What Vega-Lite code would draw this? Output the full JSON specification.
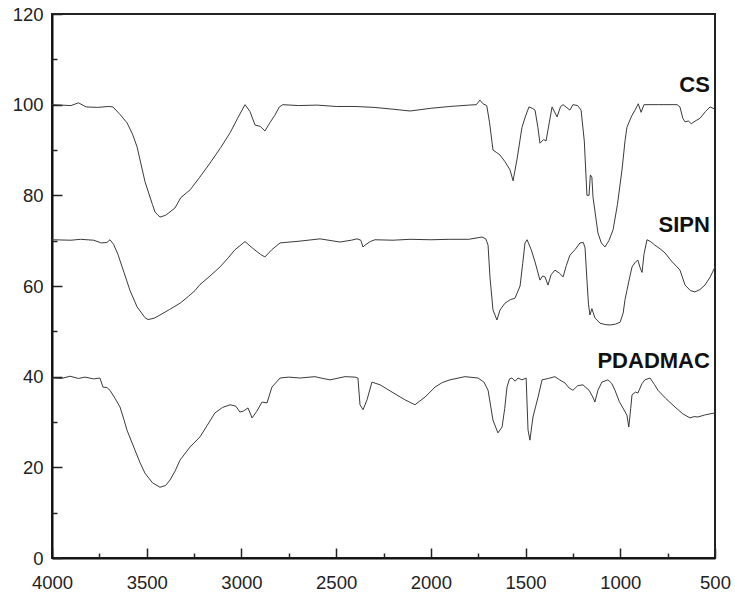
{
  "$schema": "https://vega.github.io/schema/vega-lite/v6.json",
  "width": 663,
  "height": 544,
  "autosize": {"type": "none"},
  "padding": {"left": 52, "top": 14, "right": 20, "bottom": 39},
  "background": "white",
  "config": {
    "view": {"stroke": "#222", "strokeWidth": 2},
    "font": "Liberation Sans",
    "axis": {"grid": false, "domainColor": "#111", "domainWidth": 2, "tickColor": "#222", "tickWidth": 1.5, "labelFont": "Liberation Sans", "labelFontSize": 18.5, "labelColor": "#222", "titleFontSize": 0}
  },
  "datasets": {
    "spectra": [
      {"s":"CS","wn":4000,"t":100},{"s":"CS","wn":3950,"t":99.9},{"s":"CS","wn":3900,"t":99.8},{"s":"CS","wn":3860,"t":100.4},{"s":"CS","wn":3820,"t":99.5},{"s":"CS","wn":3760,"t":99.4},{"s":"CS","wn":3700,"t":99.6},{"s":"CS","wn":3678,"t":99.5},{"s":"CS","wn":3640,"t":97.8},{"s":"CS","wn":3604,"t":96},{"s":"CS","wn":3575,"t":93.5},{"s":"CS","wn":3551,"t":90.7},{"s":"CS","wn":3509,"t":83},{"s":"CS","wn":3470,"t":78},{"s":"CS","wn":3456,"t":76.3},{"s":"CS","wn":3430,"t":75.2},{"s":"CS","wn":3400,"t":75.6},{"s":"CS","wn":3351,"t":77.2},{"s":"CS","wn":3320,"t":79.5},{"s":"CS","wn":3271,"t":81.2},{"s":"CS","wn":3220,"t":84},{"s":"CS","wn":3166,"t":87.1},{"s":"CS","wn":3110,"t":90.5},{"s":"CS","wn":3060,"t":93.8},{"s":"CS","wn":3020,"t":97},{"s":"CS","wn":2981,"t":100},{"s":"CS","wn":2955,"t":98.5},{"s":"CS","wn":2928,"t":95.5},{"s":"CS","wn":2900,"t":95.2},{"s":"CS","wn":2876,"t":94.2},{"s":"CS","wn":2850,"t":96},{"s":"CS","wn":2823,"t":97.7},{"s":"CS","wn":2800,"t":99.5},{"s":"CS","wn":2781,"t":100},{"s":"CS","wn":2700,"t":99.8},{"s":"CS","wn":2600,"t":99.9},{"s":"CS","wn":2500,"t":99.6},{"s":"CS","wn":2400,"t":99.6},{"s":"CS","wn":2300,"t":99.4},{"s":"CS","wn":2200,"t":99},{"s":"CS","wn":2110,"t":98.6},{"s":"CS","wn":2000,"t":99.2},{"s":"CS","wn":1900,"t":99.6},{"s":"CS","wn":1800,"t":99.9},{"s":"CS","wn":1760,"t":100},{"s":"CS","wn":1741,"t":101},{"s":"CS","wn":1725,"t":100.2},{"s":"CS","wn":1705,"t":99.8},{"s":"CS","wn":1690,"t":96},{"s":"CS","wn":1672,"t":90},{"s":"CS","wn":1655,"t":89.5},{"s":"CS","wn":1635,"t":88.9},{"s":"CS","wn":1610,"t":87.5},{"s":"CS","wn":1582,"t":85.6},{"s":"CS","wn":1566,"t":83.2},{"s":"CS","wn":1545,"t":88},{"s":"CS","wn":1519,"t":95},{"s":"CS","wn":1500,"t":97.5},{"s":"CS","wn":1482,"t":99.5},{"s":"CS","wn":1465,"t":99.2},{"s":"CS","wn":1450,"t":98.8},{"s":"CS","wn":1435,"t":95},{"s":"CS","wn":1424,"t":91.5},{"s":"CS","wn":1405,"t":92.3},{"s":"CS","wn":1392,"t":92},{"s":"CS","wn":1375,"t":96},{"s":"CS","wn":1360,"t":99.5},{"s":"CS","wn":1334,"t":97.3},{"s":"CS","wn":1315,"t":99.6},{"s":"CS","wn":1302,"t":100},{"s":"CS","wn":1266,"t":98.8},{"s":"CS","wn":1250,"t":100},{"s":"CS","wn":1225,"t":99.8},{"s":"CS","wn":1207,"t":98.8},{"s":"CS","wn":1190,"t":92},{"s":"CS","wn":1176,"t":80},{"s":"CS","wn":1165,"t":80},{"s":"CS","wn":1158,"t":84.5},{"s":"CS","wn":1150,"t":84},{"s":"CS","wn":1144,"t":79.6},{"s":"CS","wn":1118,"t":71.7},{"s":"CS","wn":1100,"t":69.5},{"s":"CS","wn":1081,"t":68.6},{"s":"CS","wn":1060,"t":70},{"s":"CS","wn":1038,"t":72.4},{"s":"CS","wn":1015,"t":78},{"s":"CS","wn":991,"t":85.6},{"s":"CS","wn":975,"t":92},{"s":"CS","wn":965,"t":95},{"s":"CS","wn":940,"t":97.5},{"s":"CS","wn":922,"t":98.8},{"s":"CS","wn":905,"t":100.2},{"s":"CS","wn":890,"t":98.3},{"s":"CS","wn":875,"t":100},{"s":"CS","wn":800,"t":100},{"s":"CS","wn":700,"t":100},{"s":"CS","wn":685,"t":99.5},{"s":"CS","wn":670,"t":97},{"s":"CS","wn":658,"t":96.2},{"s":"CS","wn":640,"t":96.4},{"s":"CS","wn":625,"t":95.8},{"s":"CS","wn":600,"t":96.5},{"s":"CS","wn":579,"t":97},{"s":"CS","wn":550,"t":98.5},{"s":"CS","wn":526,"t":99.5},{"s":"CS","wn":500,"t":99},

      {"s":"SIPN","wn":4000,"t":70.2},{"s":"SIPN","wn":3900,"t":70.1},{"s":"SIPN","wn":3850,"t":70.3},{"s":"SIPN","wn":3780,"t":70.1},{"s":"SIPN","wn":3740,"t":69.5},{"s":"SIPN","wn":3710,"t":69.6},{"s":"SIPN","wn":3694,"t":70.2},{"s":"SIPN","wn":3675,"t":69.2},{"s":"SIPN","wn":3652,"t":67},{"s":"SIPN","wn":3620,"t":63},{"s":"SIPN","wn":3588,"t":59},{"s":"SIPN","wn":3551,"t":55.4},{"s":"SIPN","wn":3509,"t":53},{"s":"SIPN","wn":3493,"t":52.6},{"s":"SIPN","wn":3460,"t":52.9},{"s":"SIPN","wn":3430,"t":53.6},{"s":"SIPN","wn":3380,"t":54.8},{"s":"SIPN","wn":3324,"t":56.2},{"s":"SIPN","wn":3280,"t":57.7},{"s":"SIPN","wn":3245,"t":59},{"s":"SIPN","wn":3219,"t":60.3},{"s":"SIPN","wn":3166,"t":62.2},{"s":"SIPN","wn":3113,"t":64.2},{"s":"SIPN","wn":3070,"t":66.2},{"s":"SIPN","wn":3034,"t":68},{"s":"SIPN","wn":2981,"t":69.8},{"s":"SIPN","wn":2940,"t":68.3},{"s":"SIPN","wn":2900,"t":67},{"s":"SIPN","wn":2876,"t":66.4},{"s":"SIPN","wn":2840,"t":68},{"s":"SIPN","wn":2796,"t":69.5},{"s":"SIPN","wn":2691,"t":69.9},{"s":"SIPN","wn":2585,"t":70.4},{"s":"SIPN","wn":2480,"t":69.7},{"s":"SIPN","wn":2420,"t":70.1},{"s":"SIPN","wn":2390,"t":70.4},{"s":"SIPN","wn":2370,"t":70.1},{"s":"SIPN","wn":2358,"t":68.6},{"s":"SIPN","wn":2348,"t":69},{"s":"SIPN","wn":2320,"t":69.8},{"s":"SIPN","wn":2295,"t":70.2},{"s":"SIPN","wn":2200,"t":70.1},{"s":"SIPN","wn":2110,"t":70.3},{"s":"SIPN","wn":2000,"t":70.2},{"s":"SIPN","wn":1900,"t":70.3},{"s":"SIPN","wn":1800,"t":70.3},{"s":"SIPN","wn":1730,"t":70.8},{"s":"SIPN","wn":1710,"t":70.4},{"s":"SIPN","wn":1698,"t":69},{"s":"SIPN","wn":1688,"t":62},{"s":"SIPN","wn":1672,"t":54.7},{"s":"SIPN","wn":1651,"t":52.5},{"s":"SIPN","wn":1635,"t":54.7},{"s":"SIPN","wn":1609,"t":56.2},{"s":"SIPN","wn":1580,"t":57},{"s":"SIPN","wn":1556,"t":57.3},{"s":"SIPN","wn":1529,"t":60},{"s":"SIPN","wn":1515,"t":65},{"s":"SIPN","wn":1503,"t":69.5},{"s":"SIPN","wn":1492,"t":70.2},{"s":"SIPN","wn":1470,"t":68},{"s":"SIPN","wn":1450,"t":65.3},{"s":"SIPN","wn":1424,"t":61.3},{"s":"SIPN","wn":1410,"t":62.2},{"s":"SIPN","wn":1397,"t":62},{"s":"SIPN","wn":1382,"t":60.2},{"s":"SIPN","wn":1365,"t":62.5},{"s":"SIPN","wn":1345,"t":63.5},{"s":"SIPN","wn":1320,"t":62.8},{"s":"SIPN","wn":1302,"t":62},{"s":"SIPN","wn":1285,"t":64.5},{"s":"SIPN","wn":1266,"t":66.8},{"s":"SIPN","wn":1239,"t":68},{"s":"SIPN","wn":1213,"t":69.5},{"s":"SIPN","wn":1195,"t":69.6},{"s":"SIPN","wn":1186,"t":68.4},{"s":"SIPN","wn":1176,"t":61.3},{"s":"SIPN","wn":1168,"t":56},{"s":"SIPN","wn":1160,"t":53.6},{"s":"SIPN","wn":1150,"t":55},{"s":"SIPN","wn":1134,"t":53},{"s":"SIPN","wn":1107,"t":51.8},{"s":"SIPN","wn":1080,"t":51.5},{"s":"SIPN","wn":1054,"t":51.4},{"s":"SIPN","wn":1025,"t":51.6},{"s":"SIPN","wn":1001,"t":52},{"s":"SIPN","wn":985,"t":54},{"s":"SIPN","wn":975,"t":57},{"s":"SIPN","wn":965,"t":59},{"s":"SIPN","wn":950,"t":62},{"s":"SIPN","wn":938,"t":64.2},{"s":"SIPN","wn":920,"t":65.3},{"s":"SIPN","wn":907,"t":65.7},{"s":"SIPN","wn":895,"t":64},{"s":"SIPN","wn":885,"t":63},{"s":"SIPN","wn":875,"t":67},{"s":"SIPN","wn":859,"t":70.2},{"s":"SIPN","wn":840,"t":69.8},{"s":"SIPN","wn":817,"t":69},{"s":"SIPN","wn":790,"t":68.2},{"s":"SIPN","wn":764,"t":67.3},{"s":"SIPN","wn":730,"t":65.5},{"s":"SIPN","wn":700,"t":64.2},{"s":"SIPN","wn":685,"t":63.5},{"s":"SIPN","wn":658,"t":60.2},{"s":"SIPN","wn":630,"t":59},{"s":"SIPN","wn":606,"t":58.7},{"s":"SIPN","wn":580,"t":59.2},{"s":"SIPN","wn":553,"t":60.2},{"s":"SIPN","wn":525,"t":62},{"s":"SIPN","wn":500,"t":64.2},

      {"s":"PDADMAC","wn":4000,"t":39.7},{"s":"PDADMAC","wn":3950,"t":39.6},{"s":"PDADMAC","wn":3905,"t":40.1},{"s":"PDADMAC","wn":3860,"t":39.6},{"s":"PDADMAC","wn":3826,"t":39.9},{"s":"PDADMAC","wn":3780,"t":39.5},{"s":"PDADMAC","wn":3747,"t":39.7},{"s":"PDADMAC","wn":3731,"t":37.7},{"s":"PDADMAC","wn":3710,"t":37.6},{"s":"PDADMAC","wn":3694,"t":37},{"s":"PDADMAC","wn":3667,"t":35.2},{"s":"PDADMAC","wn":3641,"t":33.3},{"s":"PDADMAC","wn":3620,"t":30.5},{"s":"PDADMAC","wn":3604,"t":28.2},{"s":"PDADMAC","wn":3562,"t":23.8},{"s":"PDADMAC","wn":3535,"t":21},{"s":"PDADMAC","wn":3509,"t":18.7},{"s":"PDADMAC","wn":3470,"t":16.6},{"s":"PDADMAC","wn":3430,"t":15.6},{"s":"PDADMAC","wn":3400,"t":16},{"s":"PDADMAC","wn":3377,"t":17.2},{"s":"PDADMAC","wn":3350,"t":19.2},{"s":"PDADMAC","wn":3324,"t":21.6},{"s":"PDADMAC","wn":3271,"t":24.5},{"s":"PDADMAC","wn":3219,"t":26.7},{"s":"PDADMAC","wn":3180,"t":29.3},{"s":"PDADMAC","wn":3140,"t":32},{"s":"PDADMAC","wn":3100,"t":33.2},{"s":"PDADMAC","wn":3060,"t":33.8},{"s":"PDADMAC","wn":3030,"t":33.5},{"s":"PDADMAC","wn":3008,"t":32.2},{"s":"PDADMAC","wn":2990,"t":32.4},{"s":"PDADMAC","wn":2965,"t":33.1},{"s":"PDADMAC","wn":2944,"t":30.9},{"s":"PDADMAC","wn":2920,"t":32.3},{"s":"PDADMAC","wn":2891,"t":34.4},{"s":"PDADMAC","wn":2865,"t":34.2},{"s":"PDADMAC","wn":2839,"t":37.7},{"s":"PDADMAC","wn":2796,"t":39.7},{"s":"PDADMAC","wn":2750,"t":39.9},{"s":"PDADMAC","wn":2691,"t":39.7},{"s":"PDADMAC","wn":2612,"t":40},{"s":"PDADMAC","wn":2570,"t":39.6},{"s":"PDADMAC","wn":2532,"t":39.3},{"s":"PDADMAC","wn":2453,"t":40},{"s":"PDADMAC","wn":2400,"t":39.9},{"s":"PDADMAC","wn":2385,"t":39.7},{"s":"PDADMAC","wn":2374,"t":33.8},{"s":"PDADMAC","wn":2358,"t":32.7},{"s":"PDADMAC","wn":2337,"t":34.9},{"s":"PDADMAC","wn":2311,"t":38.8},{"s":"PDADMAC","wn":2268,"t":38.2},{"s":"PDADMAC","wn":2205,"t":36.6},{"s":"PDADMAC","wn":2137,"t":34.9},{"s":"PDADMAC","wn":2084,"t":33.8},{"s":"PDADMAC","wn":2031,"t":35.5},{"s":"PDADMAC","wn":1978,"t":37.7},{"s":"PDADMAC","wn":1940,"t":38.7},{"s":"PDADMAC","wn":1899,"t":39.3},{"s":"PDADMAC","wn":1820,"t":40},{"s":"PDADMAC","wn":1751,"t":39.7},{"s":"PDADMAC","wn":1720,"t":38.8},{"s":"PDADMAC","wn":1698,"t":37},{"s":"PDADMAC","wn":1672,"t":30.4},{"s":"PDADMAC","wn":1646,"t":27.6},{"s":"PDADMAC","wn":1624,"t":28.9},{"s":"PDADMAC","wn":1610,"t":33},{"s":"PDADMAC","wn":1598,"t":37.7},{"s":"PDADMAC","wn":1585,"t":39.5},{"s":"PDADMAC","wn":1572,"t":39.7},{"s":"PDADMAC","wn":1555,"t":39},{"s":"PDADMAC","wn":1540,"t":39.7},{"s":"PDADMAC","wn":1519,"t":39.3},{"s":"PDADMAC","wn":1497,"t":39.7},{"s":"PDADMAC","wn":1487,"t":28.2},{"s":"PDADMAC","wn":1477,"t":26},{"s":"PDADMAC","wn":1461,"t":31.1},{"s":"PDADMAC","wn":1434,"t":35.5},{"s":"PDADMAC","wn":1413,"t":39.3},{"s":"PDADMAC","wn":1380,"t":39.6},{"s":"PDADMAC","wn":1345,"t":40},{"s":"PDADMAC","wn":1320,"t":39.3},{"s":"PDADMAC","wn":1292,"t":38.6},{"s":"PDADMAC","wn":1270,"t":37.5},{"s":"PDADMAC","wn":1250,"t":37},{"s":"PDADMAC","wn":1225,"t":38},{"s":"PDADMAC","wn":1197,"t":38.2},{"s":"PDADMAC","wn":1165,"t":37},{"s":"PDADMAC","wn":1145,"t":35.5},{"s":"PDADMAC","wn":1134,"t":34.4},{"s":"PDADMAC","wn":1118,"t":37},{"s":"PDADMAC","wn":1097,"t":38.8},{"s":"PDADMAC","wn":1065,"t":39.3},{"s":"PDADMAC","wn":1045,"t":38.5},{"s":"PDADMAC","wn":1028,"t":37},{"s":"PDADMAC","wn":1005,"t":34.5},{"s":"PDADMAC","wn":986,"t":33.1},{"s":"PDADMAC","wn":965,"t":31.5},{"s":"PDADMAC","wn":955,"t":28.9},{"s":"PDADMAC","wn":945,"t":33},{"s":"PDADMAC","wn":938,"t":36},{"s":"PDADMAC","wn":920,"t":36.6},{"s":"PDADMAC","wn":907,"t":36.4},{"s":"PDADMAC","wn":885,"t":38.5},{"s":"PDADMAC","wn":870,"t":39.3},{"s":"PDADMAC","wn":843,"t":39.7},{"s":"PDADMAC","wn":820,"t":38.3},{"s":"PDADMAC","wn":801,"t":37},{"s":"PDADMAC","wn":760,"t":35.2},{"s":"PDADMAC","wn":711,"t":33.3},{"s":"PDADMAC","wn":670,"t":31.8},{"s":"PDADMAC","wn":632,"t":30.9},{"s":"PDADMAC","wn":610,"t":31.2},{"s":"PDADMAC","wn":590,"t":31.1},{"s":"PDADMAC","wn":550,"t":31.6},{"s":"PDADMAC","wn":500,"t":32}
    ],
    "labels": [
      {"name": "CS", "wn": 527, "t": 102.9},
      {"name": "SIPN", "wn": 527, "t": 71.9},
      {"name": "PDADMAC", "wn": 527, "t": 41.9}
    ]
  },
  "resolve": {"axis": {"x": "independent", "y": "independent"}},
  "layer": [
    {
      "data": {"name": "spectra"},
      "mark": {"type": "line", "color": "#3a3a3a", "strokeWidth": 1, "interpolate": "linear"},
      "encoding": {
        "x": {
          "field": "wn", "type": "quantitative",
          "scale": {"domain": [4000, 500], "nice": false, "zero": false},
          "axis": {
            "title": null,
            "orient": "bottom",
            "format": "d",
            "values": [4000,3500,3000,2500,2000,1500,1000,500],
            "tickSize": -10,
            "labelPadding": 25,
            "labelOverlap": false,
            "labelFlush": false
          }
        },
        "y": {
          "field": "t", "type": "quantitative",
          "scale": {"domain": [0, 120], "nice": false},
          "axis": {
            "title": null,
            "orient": "left",
            "format": "d",
            "values": [0,20,40,60,80,100,120],
            "tickSize": -10,
            "labelPadding": 19,
            "labelOverlap": false,
            "labelFlush": false
          }
        },
        "detail": {"field": "s", "type": "nominal"},
        "order": {"field": "wn", "type": "quantitative", "sort": "descending"}
      }
    },
    {
      "data": {"name": "labels"},
      "mark": {"type": "text", "align": "right", "baseline": "alphabetic", "font": "Liberation Sans", "fontWeight": "bold", "fontSize": 22, "color": "#111"},
      "encoding": {
        "x": {
          "field": "wn", "type": "quantitative",
          "axis": {"title": null, "orient": "bottom", "values": [3750,3250,2750,2250,1750,1250,750], "tickSize": -5, "labels": false, "domain": false}
        },
        "y": {
          "field": "t", "type": "quantitative",
          "axis": {"title": null, "orient": "left", "values": [10,30,50,70,90,110], "tickSize": -5, "labels": false, "domain": false}
        },
        "text": {"field": "name", "type": "nominal"}
      }
    }
  ]
}
